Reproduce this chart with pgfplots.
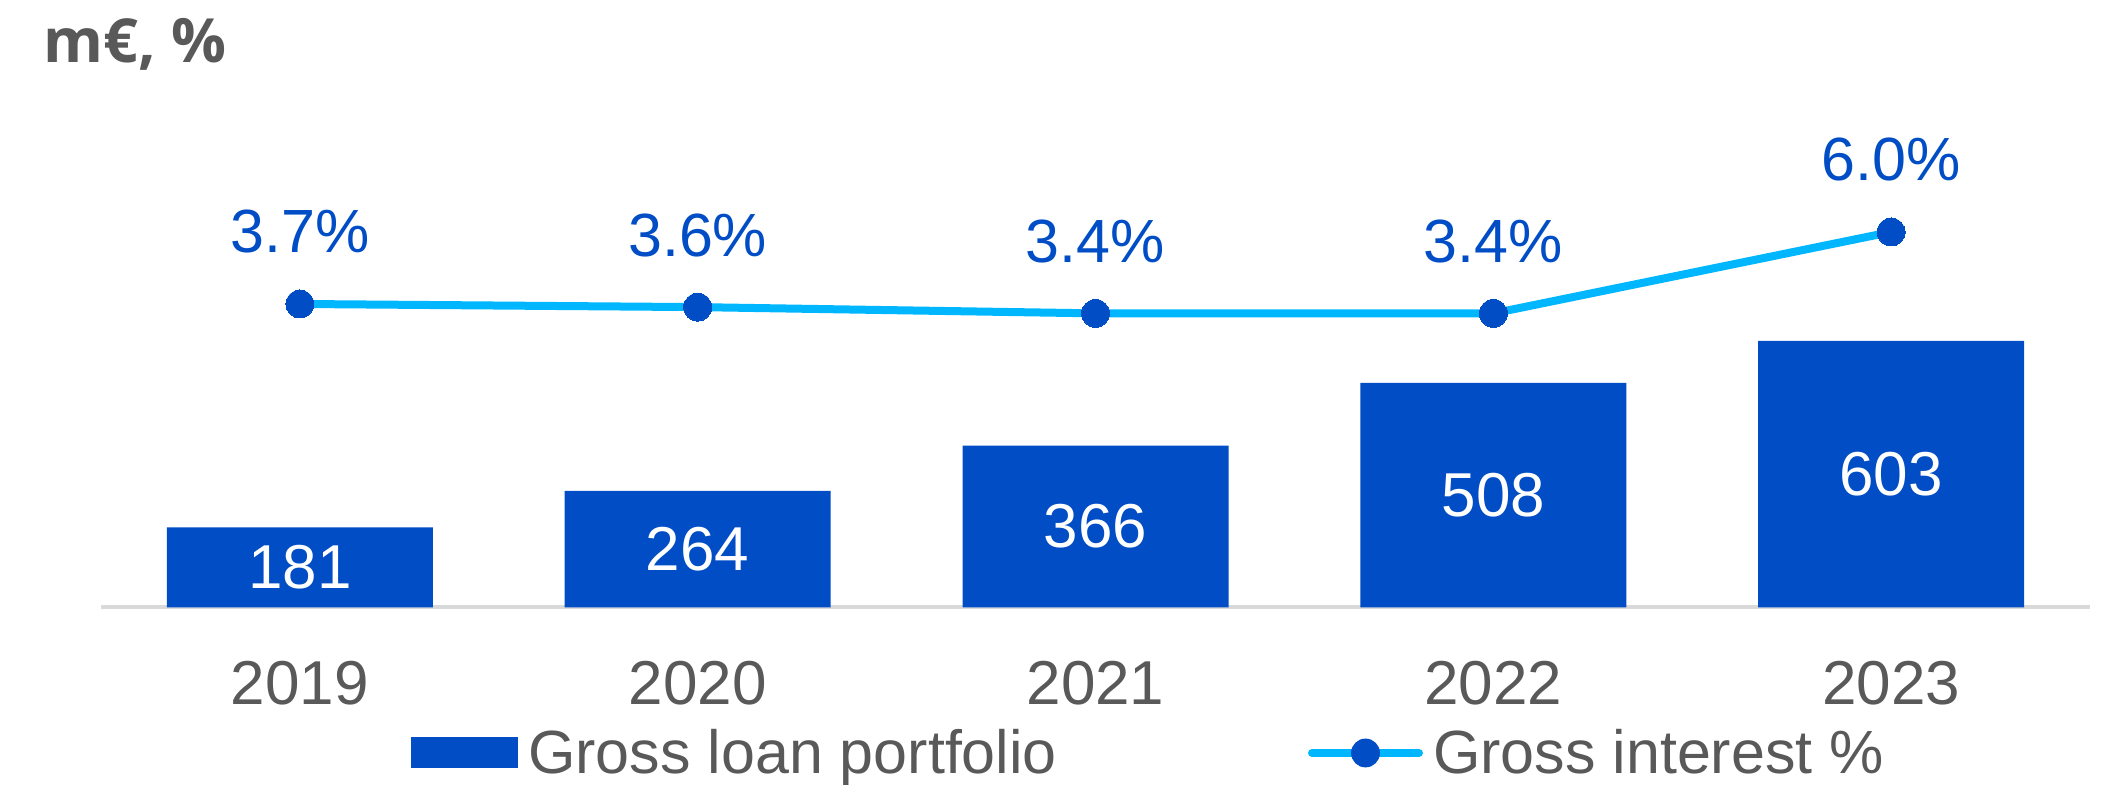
\documentclass[border=0pt]{standalone}
\usepackage{pgfplots}
\usepackage{pgfplotstable}
\pgfplotsset{compat=1.18}
\usepackage{fontspec}
\setmainfont{Liberation Sans}
\newfontfamily\titlefont{Open Sans}
\definecolor{barblue}{RGB}{0,77,198}
\definecolor{linecyan}{RGB}{0,183,255}
\definecolor{txtgray}{RGB}{89,89,89}
\definecolor{axgray}{RGB}{217,217,217}

\pgfplotstableread{
x y
0 181
1 264
2 366
3 508
4 603
}\loans
\pgfplotstableread{
x y lab
0 90.5 181
1 132 264
2 183 366
3 254 508
4 301.5 603
}\loanlabels
\pgfplotstableread{
x y
0 3.7
1 3.6
2 3.4
3 3.4
4 6.0
}\rates

\begin{document}
\begin{tikzpicture}[x=1pt,y=1pt]
\useasboundingbox (0,0) rectangle (1058.5,392.5);
\node[anchor=base west, inner sep=0pt, text=txtgray, font=\titlefont\bfseries\fontsize{30.5}{36}\selectfont] at (21.5,361) {m€, \%};
\begin{axis}[
  at={(50.5pt,88.75pt)}, anchor=south west, scale only axis,
  width=994.5pt, height=221pt,
  xmin=-0.5, xmax=4.5, ymin=0, ymax=1000,
  axis y line=none, axis x line*=bottom,
  x axis line style={axgray, line width=2pt, -},
  xtick={0,1,2,3,4}, xticklabels={2019,2020,2021,2022,2023},
  major tick length=0pt,
  xticklabel style={anchor=base, yshift=-48.75pt, text=txtgray, font=\fontsize{31}{37}\selectfont},
  clip=false,
  legend columns=2,
  legend style={at={(axis description cs:0.1559,-0.3292)}, anchor=west,
    draw=none, fill=none, inner sep=0pt, outer sep=0pt,
    nodes={inner sep=0pt, text=txtgray, font=\fontsize{30.5}{36}\selectfont},
    /tikz/every odd column/.append style={column sep=5pt},
    /tikz/every even column/.append style={column sep=125.5pt}},
]
\addplot[ybar, bar width=133pt, fill=barblue, draw=none,
  legend image code/.code={\fill[barblue] (0pt,-7.75pt) rectangle (53.5pt,7.75pt);}]
  table[x=x,y=y]{\loans};
\addlegendentry{Gross loan portfolio}
\addlegendimage{legend image code/.code={\path[draw=none,fill=none] (0pt,-7.75pt) rectangle (57.5pt,7.75pt); \draw[linecyan, line width=4pt, line cap=round] (2pt,0pt) -- (55.5pt,0pt); \fill[barblue] (28.75pt,0pt) circle (7pt);}}
\addlegendentry{Gross interest \%}
\addplot[draw=none, mark=none, forget plot, nodes near coords, point meta=explicit symbolic,
  nodes near coords style={anchor=center, text=white, font=\fontsize{31}{36}\selectfont, inner sep=0pt}]
  table[x=x,y=y,meta=lab]{\loanlabels};
\end{axis}
\begin{axis}[
  at={(50.5pt,88.75pt)}, anchor=south west, scale only axis,
  width=994.5pt, height=221pt,
  xmin=-0.5, xmax=4.5, ymin=-5.996, ymax=8.125,
  hide axis, clip=false,
]
\addplot[linecyan, line width=4pt, mark=*, mark size=7pt,
  mark options={fill=barblue, draw=barblue, line width=0pt},
  point meta=y,
  nodes near coords={\pgfmathprintnumber[fixed, fixed zerofill, precision=1, assume math mode=true]{\pgfplotspointmeta}\%},
  nodes near coords style={anchor=base, yshift=25.5pt, text=barblue, font=\fontsize{30.5}{36}\selectfont, inner sep=0pt}]
  table[x=x,y=y]{\rates};
\end{axis}
\end{tikzpicture}
\end{document}
